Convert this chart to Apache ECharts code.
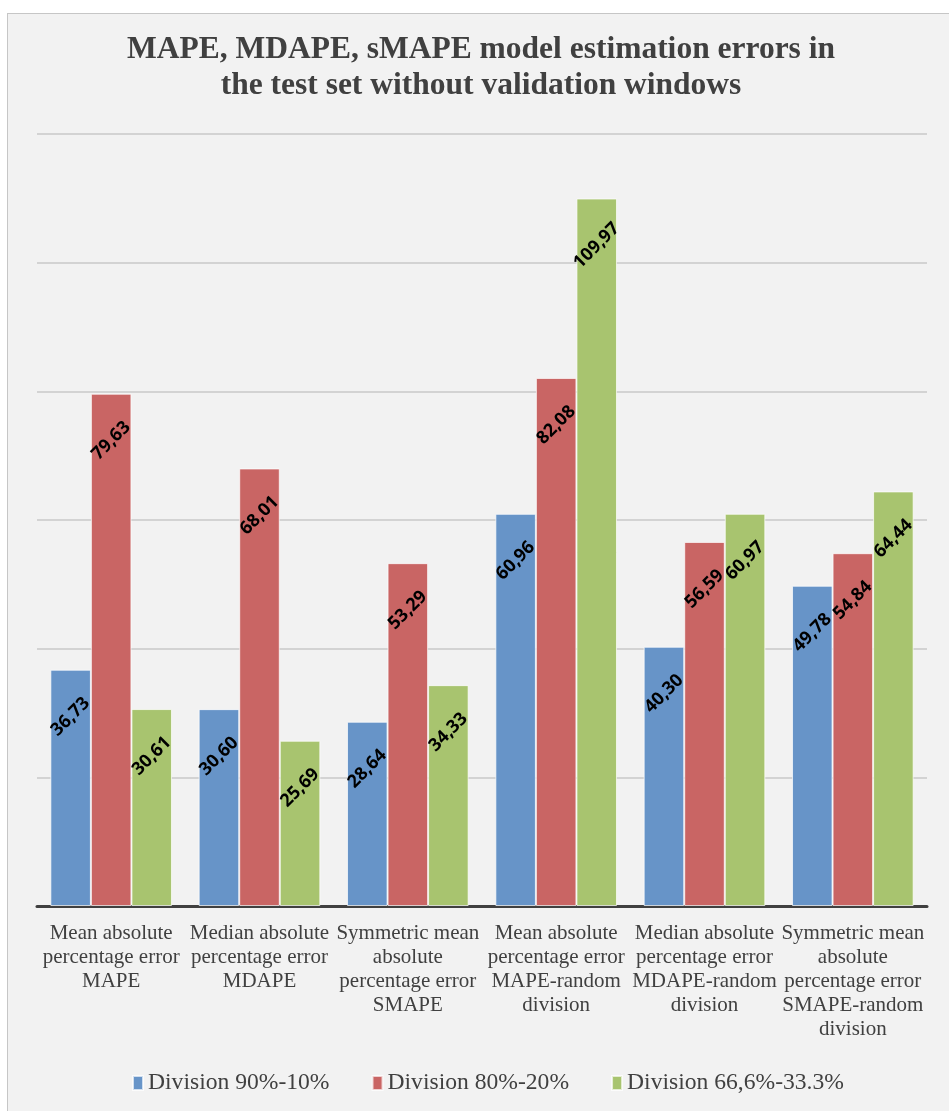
<!DOCTYPE html>
<html>
<head>
<meta charset="utf-8">
<script src="https://cdn.jsdelivr.net/npm/echarts@6/dist/echarts.min.js"></script>
<style>
  html, body { margin: 0; padding: 0; background: #fff; }
  #frame { position: absolute; left: 7px; top: 13px; width: 960px; height: 1110px;
           background: #f2f2f2; border: 1px solid #c6c6c6; }
  #main { position: absolute; left: 0; top: 0; width: 949px; height: 1111px; }
</style>
</head>
<body>
<div id="frame"></div>
<div id="main"></div>
<script>
// MAPE / MDAPE / sMAPE errors - test set without validation windows

const categories = [
  'Mean absolute\npercentage error\nMAPE',
  'Median absolute\npercentage error\nMDAPE',
  'Symmetric mean\nabsolute\npercentage error\nSMAPE',
  'Mean absolute\npercentage error\nMAPE-random\ndivision',
  'Median absolute\npercentage error\nMDAPE-random\ndivision',
  'Symmetric mean\nabsolute\npercentage error\nSMAPE-random\ndivision'
];

const seriesNames = ['Division 90%-10%', 'Division 80%-20%', 'Division 66,6%-33.3%'];

const div90 = [36.73, 30.60, 28.64, 60.96, 40.30, 49.78];
const div80 = [79.63, 68.01, 53.29, 82.08, 56.59, 54.84];
const div66 = [30.61, 25.69, 34.33, 109.97, 60.97, 64.44];

const COLORS = ['#6794c8', '#c96564', '#a8c46f'];

const SERIF = '"Liberation Serif", "DejaVu Serif", serif';

// comma decimal like the source
const fmt = v => v.toFixed(2).replace('.', ',');

function barSeries(name, data, color) {
  return {
    name: name,
    type: 'bar',
    data: data,
    barGap: '0%',
    barCategoryGap: '18%',
    itemStyle: { color: color, borderColor: 'rgba(255,255,255,0.7)', borderWidth: 1 },
    label: {
      show: true,
      position: ['50%', 47],
      rotate: 45,
      align: 'center',
      verticalAlign: 'middle',
      color: '#000',
      fontFamily: '"Noto Sans", sans-serif',
      fontSize: 18,
      fontWeight: 'bold',
      formatter: p => fmt(p.value)
    }
  };
}

const chart = echarts.init(document.getElementById('main'));
chart.setOption({
  backgroundColor: 'transparent',
  animation: false,
  title: {
    text: 'MAPE, MDAPE, sMAPE model estimation errors in\nthe test set without validation windows',
    left: 476,
    textAlign: 'center',
    top: 27,
    textStyle: { fontFamily: SERIF, fontSize: 31.5, fontWeight: 'bold', color: '#404040', lineHeight: 36 }
  },
  legend: {
    bottom: 11,
    left: 127,
    itemWidth: 10,
    itemHeight: 14,
    itemGap: 42,
    icon: 'rect',
    textStyle: { fontFamily: SERIF, fontSize: 23.6, color: '#404040' },
    data: seriesNames
  },
  grid: { left: 37, right: 22, top: 134, bottom: 205 },
  xAxis: {
    type: 'category',
    data: categories,
    axisLine: { lineStyle: { color: '#404040', width: 3 } },
    axisTick: { show: false },
    axisLabel: {
      interval: 0,
      margin: 15,
      fontFamily: SERIF,
      fontSize: 21,
      lineHeight: 24,
      color: '#404040'
    }
  },
  yAxis: {
    type: 'value',
    min: 0,
    max: 120,
    interval: 20,
    axisLabel: { show: false },
    axisLine: { show: false },
    axisTick: { show: false },
    splitLine: { lineStyle: { color: '#c8c8c8', width: 1.5 } }
  },
  series: [
    barSeries(seriesNames[0], div90, COLORS[0]),
    barSeries(seriesNames[1], div80, COLORS[1]),
    barSeries(seriesNames[2], div66, COLORS[2])
  ]
});
</script>
</body>
</html>
